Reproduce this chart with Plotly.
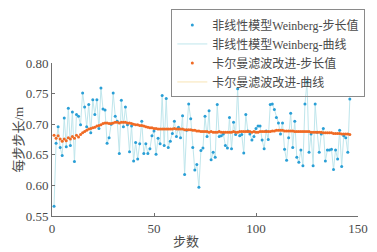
import plotly.graph_objects as go

steps = list(range(1, 147))

weinberg = [
    0.566, 0.669, 0.696, 0.662, 0.649, 0.710, 0.663, 0.726, 0.665, 0.720,
    0.639, 0.716, 0.713, 0.699, 0.751, 0.728,
    0.696, 0.732, 0.686, 0.740, 0.716, 0.740, 0.693, 0.759, 0.725, 0.723,
    0.669, 0.678, 0.700, 0.751, 0.713, 0.705, 0.652, 0.739, 0.696, 0.728,
    0.699, 0.655, 0.697, 0.640, 0.670, 0.643, 0.668, 0.705, 0.652, 0.668,
    0.652, 0.660, 0.681, 0.689, 0.651, 0.677, 0.668, 0.747, 0.665, 0.742,
    0.662, 0.672, 0.685, 0.705, 0.680, 0.695, 0.678, 0.714, 0.618, 0.690,
    0.733, 0.709,
    0.662, 0.625, 0.634, 0.597,
    0.657, 0.661, 0.713, 0.680, 0.722, 0.642, 0.654, 0.646, 0.732, 0.680,
    0.681, 0.684, 0.665, 0.661, 0.711, 0.660, 0.703, 0.683, 0.758, 0.681,
    0.683, 0.653, 0.716, 0.689, 0.684, 0.674, 0.680, 0.693, 0.697, 0.697,
    0.674, 0.660, 0.689, 0.675, 0.732, 0.733, 0.724, 0.711, 0.702, 0.684,
    0.702, 0.659, 0.641, 0.678, 0.718, 0.662, 0.705, 0.646, 0.638, 0.658,
    0.632, 0.733, 0.769, 0.654, 0.684, 0.632, 0.733, 0.687, 0.654, 0.684,
    0.693, 0.640, 0.658, 0.658, 0.659, 0.626, 0.658, 0.643, 0.690, 0.631,
    0.681, 0.678, 0.654, 0.741,
]

kalman = [
    0.682, 0.677, 0.681, 0.676, 0.672, 0.676, 0.673, 0.678, 0.676, 0.680,
    0.677, 0.682, 0.679, 0.683, 0.686, 0.688,
    0.690, 0.692, 0.693, 0.694, 0.695, 0.697, 0.698, 0.699, 0.701, 0.702,
    0.702, 0.701, 0.701, 0.702, 0.703, 0.703, 0.702, 0.703, 0.703, 0.703,
    0.702, 0.702, 0.701, 0.700, 0.699, 0.699, 0.698, 0.698, 0.697, 0.696,
    0.695, 0.694, 0.694, 0.693, 0.693, 0.692, 0.692, 0.692, 0.692, 0.692,
    0.692, 0.692, 0.692, 0.693, 0.692, 0.692, 0.692, 0.692, 0.691, 0.691,
    0.691, 0.691, 0.690, 0.690, 0.689, 0.689, 0.688, 0.688, 0.688, 0.688,
    0.687, 0.688, 0.687, 0.687, 0.687, 0.688, 0.687, 0.687, 0.687, 0.687,
    0.687, 0.687, 0.688, 0.687, 0.687, 0.688, 0.688, 0.688, 0.688, 0.688,
    0.688, 0.687, 0.688, 0.687, 0.687, 0.688, 0.688, 0.688, 0.688, 0.688,
    0.688, 0.689, 0.689, 0.690, 0.690, 0.690, 0.690, 0.689, 0.689, 0.689,
    0.689, 0.689, 0.688, 0.688, 0.688, 0.688, 0.688, 0.688, 0.688, 0.688,
    0.687, 0.687, 0.687, 0.687, 0.687, 0.687, 0.686, 0.686, 0.686, 0.686,
    0.686, 0.685, 0.685, 0.685, 0.685, 0.684, 0.684, 0.684, 0.684, 0.683,
    0.683, 0.683, 0.683, 0.683, 0.683, 0.683,
][:146]

names = ["非线性模型Weinberg-步长值", "非线性模型Weinberg-曲线",
         "卡尔曼滤波改进-步长值", "卡尔曼滤波改进-曲线"]
y_ticks = [0.55, 0.60, 0.65, 0.70, 0.75, 0.80]
x_ticks = [0, 50, 100, 150]

FONT = "Liberation Serif, 'Noto Sans CJK SC', serif"
TXT = "#4a4a4a"

fig = go.Figure()
fig.add_trace(go.Scatter(x=steps, y=weinberg, mode="lines", name=names[1],
                         line=dict(color="#bfe6ec", width=1), legendrank=2))
fig.add_trace(go.Scatter(x=steps, y=kalman, mode="lines", name=names[3],
                         line=dict(color="#f8e4b4", width=1), legendrank=4))
fig.add_trace(go.Scatter(x=steps, y=weinberg, mode="markers", name=names[0],
                         marker=dict(color="#2a9fd6", size=3), legendrank=1))
fig.add_trace(go.Scatter(x=steps, y=kalman, mode="markers", name=names[2],
                         marker=dict(color="#f06a24", size=3), legendrank=3))

axis_common = dict(showgrid=False, zeroline=False, showline=True,
                   linecolor="#707070", linewidth=1, ticks="inside",
                   ticklen=3, tickcolor="#707070", ticklabeloverflow="allow",
                   tickfont=dict(family=FONT, size=13, color=TXT))
fig.update_xaxes(range=[0, 150], tickvals=x_ticks, **axis_common)
fig.update_yaxes(range=[0.55, 0.80], tickvals=y_ticks, tickformat=".2f",
                 **axis_common)

fig.update_layout(
    width=377, height=252,
    margin=dict(l=52, r=9, t=62, b=36),
    paper_bgcolor="white", plot_bgcolor="white",
    font=dict(family=FONT, color=TXT),
    legend=dict(x=0.39, y=1.35, xanchor="left", yanchor="top",
                bgcolor="rgba(255,255,255,0)", bordercolor="#8a8a8a",
                borderwidth=1,
                font=dict(family=FONT, size=12, color=TXT),
                itemwidth=30, tracegroupgap=0),
    annotations=[
        dict(text="步数", x=0.437, y=-0.105, xref="paper", yref="paper",
             xanchor="center", yanchor="top", showarrow=False,
             font=dict(family=FONT, size=13, color=TXT)),
        dict(text="每步步长/m", x=-0.08, y=0.5, xref="paper", yref="paper",
             xanchor="right", yanchor="middle", textangle=-90, showarrow=False,
             font=dict(family=FONT, size=13, color=TXT)),
    ],
)

fig.write_html("out.html",
               config={"displayModeBar": False},
               post_script="document.body.style.margin='0';"
                           "document.body.style.padding='0';")
